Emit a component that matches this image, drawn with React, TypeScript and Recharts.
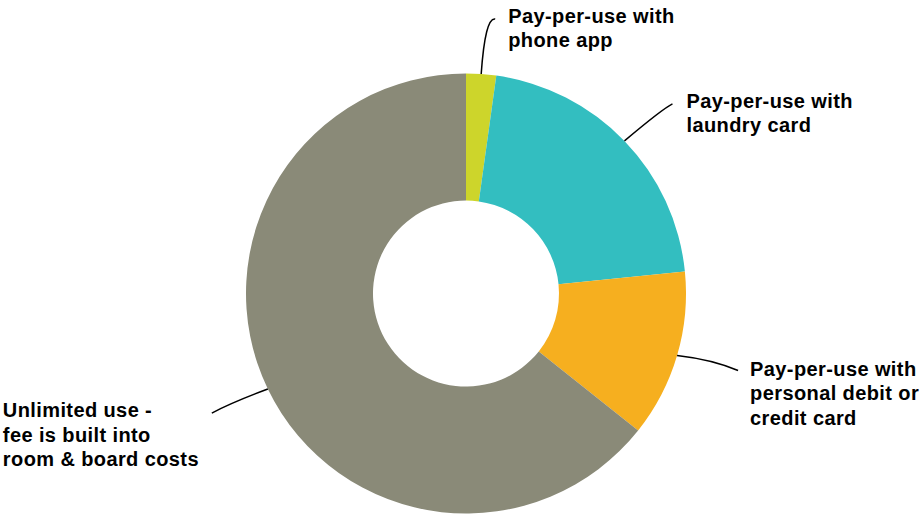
import React from 'react';
import { PieChart, Pie, Cell } from 'recharts';

const categories = [
  'Pay-per-use with phone app',
  'Pay-per-use with laundry card',
  'Pay-per-use with personal debit or credit card',
  'Unlimited use - fee is built into room & board costs',
];
const shares = [2.2, 21.2, 12.3, 64.3];
const labelLines = [
  ['Pay-per-use with', 'phone app'],
  ['Pay-per-use with', 'laundry card'],
  ['Pay-per-use with', 'personal debit or', 'credit card'],
  ['Unlimited use -', 'fee is built into', 'room & board costs'],
];

const colors = ['#CDD52B', '#33BEC0', '#F6AF1F', '#8A8A78'];

// leader line end, curve control point and text position, relative to the slice edge point
const labelLayout = [
  { end: [14, -55], ctrl: [4, -57], text: [27, -51.5] },
  { end: [48, -37], ctrl: [38, -32], text: [62, -33] },
  { end: [61, 15], ctrl: [35, 4], text: [73, 20] },
  { end: [-56, 24], ctrl: [-35, 13], text: [-265, 28] },
];

const data = categories.map((name, i) => ({ name, value: shares[i] }));

const RADIAN = Math.PI / 180;

function renderLabel(props: any) {
  const { cx, cy, midAngle, outerRadius, index } = props;
  const sx = cx + outerRadius * Math.cos(-midAngle * RADIAN);
  const sy = cy + outerRadius * Math.sin(-midAngle * RADIAN);
  const l = labelLayout[index];
  const tx = sx + l.text[0];
  const ty = sy + l.text[1];
  return (
    <g key={`lbl-${index}`}>
      <path
        d={`M${sx},${sy} Q${sx + l.ctrl[0]},${sy + l.ctrl[1]} ${sx + l.end[0]},${sy + l.end[1]}`}
        stroke="#000"
        strokeWidth={1.5}
        fill="none"
      />
      <text
        x={tx}
        y={ty}
        textAnchor="start"
        fill="#000"
        fontFamily="'Liberation Sans', Arial, sans-serif"
        fontWeight="bold"
        fontSize={20}
        letterSpacing={0.4}
      >
        {labelLines[index].map((line, j) => (
          <tspan key={j} x={tx} dy={j === 0 ? 0 : 24.5}>
            {line}
          </tspan>
        ))}
      </text>
    </g>
  );
}

export default function App() {
  return (
    <div style={{ position: 'absolute', left: 0, top: 0, width: 922, height: 515, background: '#fff' }}>
      <PieChart width={922} height={515} margin={{ top: 0, right: 0, bottom: 0, left: 0 }}>
        <Pie
          data={data}
          dataKey="value"
          nameKey="name"
          cx={466}
          cy={293.5}
          innerRadius={93}
          outerRadius={220}
          startAngle={90}
          endAngle={-270}
          stroke="none"
          label={renderLabel}
          labelLine={false}
          isAnimationActive={false}
        >
          {data.map((d, i) => (
            <Cell key={d.name} fill={colors[i]} />
          ))}
        </Pie>
      </PieChart>
    </div>
  );
}
